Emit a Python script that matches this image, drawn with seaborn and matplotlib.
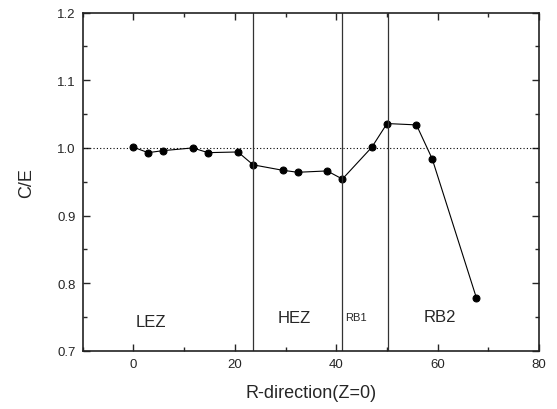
import matplotlib
matplotlib.use("Agg")
import matplotlib.pyplot as plt
from matplotlib.ticker import MultipleLocator
import seaborn as sns
import pandas as pd

r_pos = [0.0, 2.9, 5.9, 11.7, 14.7, 20.6, 23.6, 29.4, 32.4, 38.2, 41.2, 47.0, 50.0, 55.8, 58.9, 67.6]
ce = [1.001, 0.993, 0.996, 1.000, 0.993, 0.994, 0.975, 0.967, 0.964, 0.966, 0.954, 1.001, 1.036, 1.034, 0.984, 0.779]
boundaries = [23.5, 41.2, 50.1]
zone_labels = ["LEZ", "HEZ", "RB1", "RB2"]
zone_label_x = [3.5, 31.8, 43.9, 60.5]
zone_label_y = [0.743, 0.749, 0.750, 0.751]
zone_label_size = [12, 12, 8, 12]

sns.set_style("ticks")
plt.rcParams['font.family'] = ['Liberation Sans', 'DejaVu Sans']

fig = plt.figure(figsize=(5.57, 4.10), dpi=100)
ax = fig.add_axes([0.1485, 0.1415, 0.8195, 0.8255])

df = pd.DataFrame({"R": r_pos, "CE": ce})
sns.lineplot(data=df, x="R", y="CE", ax=ax, color="black", linewidth=0.8,
             marker="o", markersize=5, markeredgecolor="black", markerfacecolor="black")

ax.axhline(1.0, color="black", linestyle=(0, (1, 2)), linewidth=0.8)
for b in boundaries:
    ax.axvline(b, color="#333333", linewidth=0.9)

for lab, xx, yy, fs in zip(zone_labels, zone_label_x, zone_label_y, zone_label_size):
    ax.text(xx, yy, lab, ha="center", va="center", fontsize=fs)

ax.set_xlim(-10, 80)
ax.set_ylim(0.7, 1.2)
ax.xaxis.set_major_locator(MultipleLocator(20))
ax.xaxis.set_minor_locator(MultipleLocator(10))
ax.yaxis.set_major_locator(MultipleLocator(0.1))
ax.yaxis.set_minor_locator(MultipleLocator(0.05))
ax.yaxis.set_major_formatter(matplotlib.ticker.FormatStrFormatter('%.1f'))
ax.tick_params(which="both", direction="in", top=True, right=True, labelsize=9.5, width=1, pad=5)
ax.tick_params(which="major", length=5)
ax.tick_params(which="minor", length=3)
for s in ax.spines.values():
    s.set_linewidth(1.2)
    s.set_color("#222222")
    s.set_visible(True)
ax.set_xlabel("R-direction(Z=0)", fontsize=13, labelpad=10)
ax.set_ylabel("C/E", fontsize=13, labelpad=16)

fig.savefig("out.png", dpi=100)
